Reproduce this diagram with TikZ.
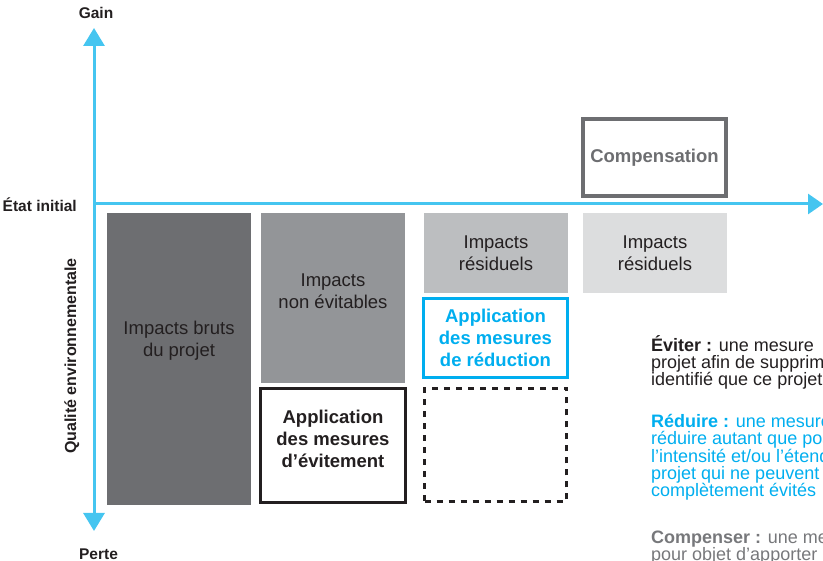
\documentclass[tikz,border=0pt]{standalone}
\usepackage{fontspec}
\setmainfont{Liberation Sans}
\usetikzlibrary{arrows.meta}

\definecolor{encre}{HTML}{231F20}
\definecolor{axebleu}{HTML}{45C5F0}
\definecolor{cyanfort}{HTML}{00AEEF}
\definecolor{grisfonce}{HTML}{6D6E71}
\definecolor{grismoyen}{HTML}{939598}
\definecolor{grisclair}{HTML}{BCBEC0}
\definecolor{grispale}{HTML}{DCDDDE}
\definecolor{grisnote}{HTML}{77787B}

\newcommand{\boxfont}{\fontsize{18.5}{21.7}\selectfont}
\newcommand{\axisfont}{\fontsize{15.5}{18}\selectfont\bfseries}
\newcommand{\notefont}{\fontsize{18}{16.6}\selectfont}

\begin{document}
\begin{tikzpicture}[x=1pt, y=-1pt,
    axe/.style={draw=axebleu, line width=3pt},
    bloc/.style={anchor=north west, inner sep=0pt, outer sep=0pt, minimum width=144pt},
    cadre/.style={bloc, draw, line width=3.2pt},
    texte/.style={align=center, text=encre, font=\boxfont},
    axelabel/.style={text=encre, font=\axisfont, inner sep=0pt},
    note/.style={anchor=base west, align=left, font=\notefont, inner sep=0pt}]

    \useasboundingbox (0,0) rectangle (823,561);
    \clip (0,0) rectangle (823,561);

    %% Impact blocks
    \node[bloc, fill=grisfonce, minimum height=292pt] (bruts) at (107,213) {};
    \node[texte, inner sep=0pt] (brutstxt) at (179,341) {Impacts bruts\\du projet};

    \node[bloc, fill=grismoyen, minimum height=170pt] (nonevit) at (261,213) {};
    \node[texte, inner sep=0pt] (nonevittxt) at (333,291) {Impacts\\non évitables};

    \node[cadre, draw=encre, minimum width=145pt, minimum height=114pt] (evitement) at (260.5,388.5) {};
    \node[texte, inner sep=0pt, font=\boxfont\bfseries] (evitementtxt) at (333,439)
        {Application\\des mesures\\d’évitement};

    \node[bloc, texte, fill=grisclair, minimum height=80pt] (residuels) at (424,213) {Impacts\\résiduels};
    \node[cadre, texte, draw=cyanfort, text=cyanfort, font=\boxfont\bfseries,
          minimum height=79pt] (reduction) at (423.5,298.5)
          {Application\\des mesures\\de réduction};
    \node[cadre, draw=encre, line width=3.3pt, dash pattern=on 6pt off 6pt,
          minimum width=142pt, minimum height=113pt] (vide) at (424.5,388.5) {};

    \node[bloc, texte, fill=grispale, minimum height=80pt] (restants) at (583,213) {Impacts\\résiduels};
    \node[cadre, texte, draw=grisfonce, line width=4pt, text=grisfonce, font=\boxfont\bfseries,
          minimum width=143pt, minimum height=77pt] (compensation) at (583,119) {Compensation};

    %% Axes
    \coordinate (origine) at (94,204);
    \coordinate (haut) at (94,28);
    \coordinate (bas) at (94,531);
    \coordinate (fin) at (823,204);
    \draw[axe, {Triangle[width=21pt,length=18pt]}-{Triangle[width=21pt,length=18pt]}] (bas) -- (haut);
    \draw[axe, -{Triangle[width=20pt,length=15pt]}] (origine) -- (fin);

    % Axis labels
    \node[axelabel, anchor=base] (gain) at (96,19) {Gain};
    \node[axelabel, anchor=base] (perte) at (98.5,559) {Perte};
    \node[axelabel, anchor=base east] (etat) at (77,212) {État initial};
    \node[axelabel, rotate=90, anchor=base, font=\fontsize{16}{18}\selectfont\bfseries] (qualite) at (76,356)
        {Qualité environnementale};

    %% Notes on the right (anchored on their last line)
    \node[note, text=encre] (eviter) at (651,386)
        {\textbf{Éviter :} une mesure\\projet afin de supprimer\\identifié que ce projet};
    \node[note, text=cyanfort] (reduire) at (651,497)
        {\textbf{Réduire :} une mesure\\réduire autant que possible\\l’intensité et/ou l’étendue\\projet qui ne peuvent\\complètement évités};
    \node[note, text=grisnote] (compenser) at (651,561)
        {\textbf{Compenser :} une mesure\\pour objet d’apporter};

\end{tikzpicture}
\end{document}
